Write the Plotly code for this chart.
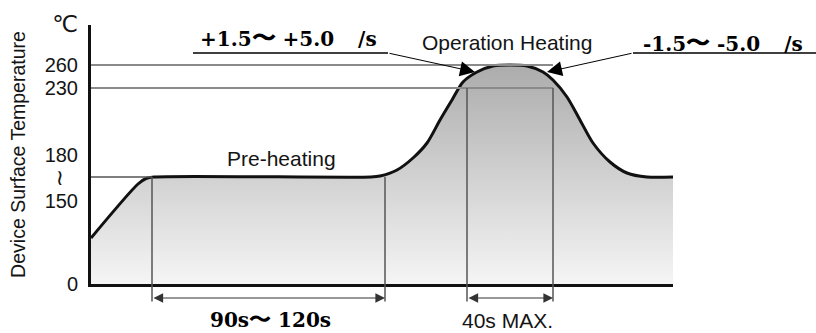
import plotly.graph_objects as go

# ---- data (schematic reflow profile) ----
profile_time = [0, 47, 55, 63, 280, 289, 306, 322, 336, 349, 361, 372, 386, 402,
                419, 436, 452, 462, 476, 489, 502, 519, 536, 556, 582]
profile_level = [46, 100, 105.5, 107, 107, 108, 114, 126, 141, 164, 184, 202, 212, 218,
                 219, 218, 212, 204, 187, 164, 141, 122, 111, 107, 107]

temp_tick_levels = [0, 83, 106, 129, 196, 219, 259]
temp_tick_labels = ["0", "150",
                    "<span style='font-family:DejaVu Sans;font-size:22px'>\u2240</span>\u2002\u2009",
                    "180", "230", "260",
                    "<span style='font-family:DejaVu Sans;font-size:23px'>\u2103</span>"]

preheat_level = 107
peak_levels = [196, 219]          # 230 and 260 degC lines
preheat_window = [61, 294]
peak_window = [376, 462]
ramp_up_tip = [384, 212]
ramp_down_tip = [456, 212]

rate_up_text = "+1.5<span style='font-size:24px'>\u301c</span> +5.0\u2003\u2009/s"
rate_down_text = "-1.5<span style='font-size:24px'>\u301c</span> -5.0\u2003\u2009/s"
preheat_time_text = "90s<span style='font-size:22px'>\u301c</span> 120s"
peak_time_text = "40s MAX."
preheat_label = "Pre-heating"
peak_label = "Operation Heating"
y_title = "Device Surface Temperature"

# ---- layout geometry ----
W, H = 816, 333
L, R, T, B = 91, 143, 25, 49
PW, PH = W - L - R, H - T - B


def fx(px):
    return (px - L) / PW


def fy(py):
    return (H - B - py) / PH


SANS = "Liberation Sans, Arial, sans-serif"
SERIF = "DejaVu Serif, serif"
INK = "#141414"

fig = go.Figure()
fig.add_trace(go.Scatter(
    x=profile_time, y=profile_level, mode="lines",
    line=dict(color="#111111", width=3, shape="spline", smoothing=0.8),
    fill="tozeroy",
    fillgradient=dict(type="vertical", start=0, stop=max(profile_level),
                      colorscale=[[0, "#f5f5f5"], [1, "#acacac"]]),
    hoverinfo="skip", showlegend=False,
))

shapes = []
for lv in peak_levels:
    shapes.append(dict(type="line", xref="x", yref="y", x0=0, x1=peak_window[1],
                       y0=lv, y1=lv, line=dict(color="#8a8a8a", width=2)))
shapes.append(dict(type="line", xref="x", yref="y", x0=0, x1=preheat_window[0],
                   y0=preheat_level, y1=preheat_level, line=dict(color="#555555", width=1.5)))
# underlines of the rate labels
shapes.append(dict(type="line", xref="paper", yref="paper", x0=fx(193), x1=fx(388),
                   y0=fy(53), y1=fy(53), line=dict(color="#000", width=1.3)))
shapes.append(dict(type="line", xref="paper", yref="paper", x0=fx(633), x1=fx(816),
                   y0=fy(53), y1=fy(53), line=dict(color="#000", width=1.3)))

ann = []
# vertical marker lines
for xv in preheat_window:
    ann.append(dict(x=xv, y=preheat_level, xref="x", yref="y", axref="x", ayref="y",
                    ax=xv, ay=-19, text="", showarrow=True, arrowhead=0,
                    arrowwidth=1.5, arrowcolor="#555555"))
for xv in peak_window:
    ann.append(dict(x=xv, y=peak_levels[0], xref="x", yref="y", axref="x", ayref="y",
                    ax=xv, ay=-19, text="", showarrow=True, arrowhead=0,
                    arrowwidth=1.5, arrowcolor="#555555"))
# dimension arrows
for w in (preheat_window, peak_window):
    ann.append(dict(x=w[1], y=fy(298), xref="x", yref="paper", axref="x", ax=w[0], ay=0,
                    text="", showarrow=True, arrowside="end+start",
                    arrowhead=2, startarrowhead=2, arrowsize=1.6, startarrowsize=1.6,
                    arrowwidth=1.2, arrowcolor="#333333"))
# leader arrows to the ramp
ann.append(dict(x=ramp_up_tip[0], y=ramp_up_tip[1], xref="x", yref="y",
                ax=-87, ay=-19, text="", showarrow=True, arrowhead=2,
                arrowsize=3, arrowwidth=1, arrowcolor="#000"))
ann.append(dict(x=ramp_down_tip[0], y=ramp_down_tip[1], xref="x", yref="y",
                ax=86, ay=-19, text="", showarrow=True, arrowhead=2,
                arrowsize=3, arrowwidth=1, arrowcolor="#000"))

serif_font = dict(family=SERIF, size=20, color="#000", weight="bold")
sans_font = dict(family=SANS, size=21, color=INK)


def label(text, cx, cy, font):
    ann.append(dict(x=fx(cx), y=fy(cy), xref="paper", yref="paper", text=text,
                    showarrow=False, xanchor="center", yanchor="middle", font=font,
                    borderpad=0))


label(rate_up_text, 288, 37, serif_font)
label(rate_down_text, 723, 43, serif_font)
label(preheat_time_text, 270, 319, serif_font)
label(peak_label, 507, 43, sans_font)
label(preheat_label, 281, 158, sans_font)
label(peak_time_text, 507, 320, sans_font)

fig.update_layout(
    width=W, height=H, margin=dict(l=L, r=R, t=T, b=B),
    paper_bgcolor="white", plot_bgcolor="white",
    shapes=shapes, annotations=ann, showlegend=False,
    xaxis=dict(range=[0, PW], showgrid=False, zeroline=False, showticklabels=False,
               ticks="", showline=True, linewidth=3, linecolor="#111111", fixedrange=True),
    yaxis=dict(range=[0, PH], showgrid=False, zeroline=False, ticks="",
               tickmode="array", tickvals=temp_tick_levels, ticktext=temp_tick_labels,
               tickfont=dict(family=SANS, size=20, color=INK), ticklabelstandoff=6,
               showline=True, linewidth=3, linecolor="#111111", fixedrange=True,
               title=dict(text=y_title, font=dict(family=SANS, size=19.5, color=INK),
                          standoff=14)),
)

fig.write_html("out.html", config={"displayModeBar": False},
               post_script="document.body.style.margin='0px';")
